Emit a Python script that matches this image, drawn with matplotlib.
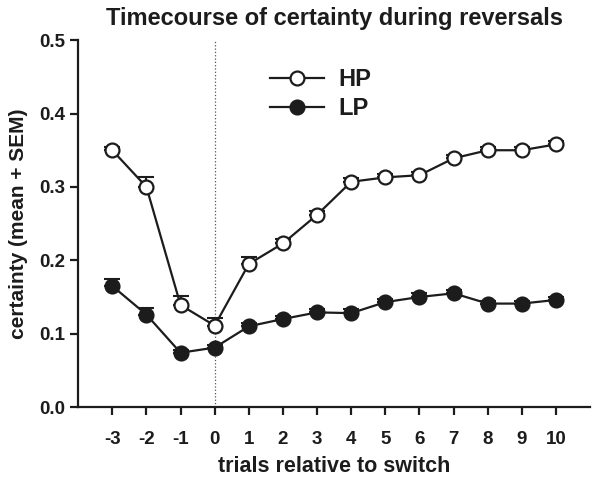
import matplotlib
matplotlib.use('Agg')
import matplotlib.pyplot as plt

plt.rcParams['font.family'] = ['Liberation Sans', 'DejaVu Sans']

trials = [-3, -2, -1, 0, 1, 2, 3, 4, 5, 6, 7, 8, 9, 10]
hp_mean = [0.350, 0.300, 0.139, 0.111, 0.195, 0.223, 0.262, 0.307, 0.313, 0.316, 0.339, 0.350, 0.350, 0.358]
hp_sem = [0.005, 0.014, 0.012, 0.010, 0.010, 0.006, 0.005, 0.005, 0.005, 0.005, 0.005, 0.005, 0.005, 0.005]
lp_mean = [0.165, 0.126, 0.074, 0.081, 0.110, 0.120, 0.129, 0.128, 0.143, 0.150, 0.155, 0.141, 0.141, 0.146]
lp_sem = [0.009, 0.009, 0.004, 0.004, 0.004, 0.004, 0.004, 0.005, 0.004, 0.005, 0.005, 0.004, 0.004, 0.004]

col = '#1c1c1c'

fig = plt.figure(figsize=(6.01, 4.84), dpi=100)
ax = fig.add_axes([0.13, 0.159, 0.852, 0.758])

ax.axvline(0, color='#555555', linestyle=':', linewidth=0.9, zorder=1)

# upper error bars only (mean + SEM)
ax.errorbar(trials, hp_mean, yerr=[[0] * len(hp_sem), hp_sem], fmt='none',
            ecolor=col, elinewidth=1.5, capsize=6, capthick=1.5, zorder=2)
ax.errorbar(trials, lp_mean, yerr=[[0] * len(lp_sem), lp_sem], fmt='none',
            ecolor=col, elinewidth=1.5, capsize=6, capthick=1.5, zorder=2)

ax.plot(trials, hp_mean, '-o', color=col, mfc='white', mec=col, mew=1.6,
        ms=10, lw=1.6, label='HP', zorder=3)
ax.plot(trials, lp_mean, '-o', color=col, mfc=col, mec=col, mew=1.6,
        ms=10, lw=1.6, label='LP', zorder=3)

ax.set_xlim(-4, 11)
ax.set_ylim(0, 0.5)
ax.set_xticks(trials)
ax.set_xticklabels([str(t) for t in trials])
ax.set_yticks([0.0, 0.1, 0.2, 0.3, 0.4, 0.5])
ax.set_yticklabels(['0.0', '0.1', '0.2', '0.3', '0.4', '0.5'])

for s in ['top', 'right']:
    ax.spines[s].set_visible(False)
for s in ['left', 'bottom']:
    ax.spines[s].set_linewidth(1.6)
    ax.spines[s].set_color(col)

ax.tick_params(axis='both', direction='out', length=6, width=1.6, color=col,
               labelsize=13.5, labelcolor=col)
ax.tick_params(axis='x', pad=11)
for lab in ax.get_xticklabels() + ax.get_yticklabels():
    lab.set_fontweight('bold')

ax.set_xlabel('trials relative to switch', fontsize=15.5, fontweight='bold', color=col, labelpad=6)
ax.set_ylabel('certainty (mean + SEM)', fontsize=15, fontweight='bold', color=col, labelpad=8)
ax.set_title('Timecourse of certainty during reversals', fontsize=17, fontweight='bold',
             color=col, pad=11)

leg = ax.legend(loc='upper left', bbox_to_anchor=(0.333, 0.982), frameon=False,
                prop={'size': 17, 'weight': 'bold'}, handlelength=2.3,
                labelspacing=0.25, handletextpad=0.6)
for t in leg.get_texts():
    t.set_color(col)

fig.savefig('out.png', dpi=100)
